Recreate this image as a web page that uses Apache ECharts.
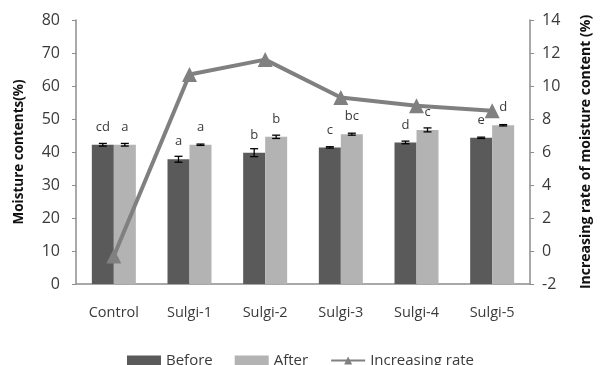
<!DOCTYPE html>
<html>
<head>
<meta charset="utf-8">
<script src="https://cdn.jsdelivr.net/npm/echarts@6/dist/echarts.min.js"></script>
<style>
  html, body { margin: 0; padding: 0; background: #fff; }
  #chart { width: 601px; height: 365px; }
</style>
</head>
<body>
<div id="chart"></div>
<script>
// Moisture content before/after treatment and the rate of increase
const categories = ['Control', 'Sulgi-1', 'Sulgi-2', 'Sulgi-3', 'Sulgi-4', 'Sulgi-5'];
const beforeValues = [42.2, 37.8, 39.8, 41.4, 42.9, 44.3];
const afterValues = [42.2, 42.2, 44.6, 45.4, 46.7, 48.1];
const beforeErrors = [0.4, 0.9, 1.2, 0.2, 0.4, 0.2];
const afterErrors = [0.4, 0.2, 0.5, 0.3, 0.6, 0.2];
const beforeLetters = ['cd', 'a', 'b', 'c', 'd', 'e'];
const afterLetters = ['a', 'a', 'b', 'bc', 'c', 'd'];
const increasingRate = [-0.3, 10.7, 11.6, 9.3, 8.8, 8.5];

const FONT = '"Open Sans", "Liberation Sans", sans-serif';
const BAR_W = 22;
const BEFORE_COLOR = '#5a5a5a';
const AFTER_COLOR = '#b3b3b3';
const LINE_COLOR = '#808080';
const AXIS_COLOR = '#8c8c8c';
const TEXT_COLOR = '#3a3a3a';

function errorBarSeries(values, errors, offset) {
  return {
    type: 'custom',
    yAxisIndex: 0,
    z: 5,
    silent: true,
    data: values.map((v, i) => [i, v, errors[i]]),
    renderItem: function (params, api) {
      const i = api.value(0);
      const hi = api.coord([i, api.value(1) + api.value(2)]);
      const lo = api.coord([i, api.value(1) - api.value(2)]);
      const x = hi[0] + offset;
      const cap = 4;
      const st = { stroke: '#000', lineWidth: 1.3 };
      return {
        type: 'group',
        children: [
          { type: 'line', shape: { x1: x, y1: hi[1], x2: x, y2: lo[1] }, style: st },
          { type: 'line', shape: { x1: x - cap, y1: hi[1], x2: x + cap, y2: hi[1] }, style: st },
          { type: 'line', shape: { x1: x - cap, y1: lo[1], x2: x + cap, y2: lo[1] }, style: st }
        ]
      };
    }
  };
}

const chart = echarts.init(document.getElementById('chart'));
chart.setOption({
  animation: false,
  textStyle: { fontFamily: FONT },
  grid: { left: 76, right: 64, top: 20, bottom: 81 },
  legend: {
    top: 348,
    left: 'center',
    itemWidth: 34,
    itemHeight: 10,
    itemGap: 22,
    textStyle: { fontSize: 15, color: TEXT_COLOR, fontFamily: FONT },
    data: [
      { name: 'Before', icon: 'rect' },
      { name: 'After', icon: 'rect' },
      { name: 'Increasing rate' }
    ]
  },
  xAxis: {
    type: 'category',
    data: categories,
    axisLine: { lineStyle: { color: AXIS_COLOR, width: 1.5 } },
    axisTick: { show: false },
    axisLabel: { color: TEXT_COLOR, fontSize: 14.5, margin: 21 }
  },
  yAxis: [
    {
      type: 'value',
      min: 0, max: 80, interval: 10,
      name: 'Moisture contents(%)',
      nameLocation: 'middle',
      nameRotate: 90,
      nameGap: 50,
      nameTextStyle: { fontWeight: 'bold', fontSize: 13.5, color: '#111' },
      axisLine: { show: true, lineStyle: { color: AXIS_COLOR, width: 1.5 } },
      axisTick: { show: true, length: 4, lineStyle: { color: AXIS_COLOR } },
      splitLine: { show: false },
      axisLabel: { color: TEXT_COLOR, fontSize: 16, margin: 16 }
    },
    {
      type: 'value',
      min: -2, max: 14, interval: 2,
      position: 'right',
      name: 'Increasing rate of moisture content (%)',
      nameLocation: 'middle',
      nameRotate: 90,
      nameGap: 49,
      nameTextStyle: { fontWeight: 'bold', fontSize: 14, color: '#111' },
      axisLine: { show: true, lineStyle: { color: AXIS_COLOR, width: 1.5 } },
      axisTick: { show: true, length: 4, lineStyle: { color: AXIS_COLOR } },
      splitLine: { show: false },
      axisLabel: { color: TEXT_COLOR, fontSize: 16, margin: 12 }
    }
  ],
  series: [
    {
      name: 'Before',
      type: 'bar',
      yAxisIndex: 0,
      barWidth: BAR_W,
      barGap: '0%',
      itemStyle: { color: BEFORE_COLOR },
      data: beforeValues,
      label: {
        show: true, position: 'top', distance: 11,
        fontSize: 13, color: TEXT_COLOR,
        formatter: p => beforeLetters[p.dataIndex]
      }
    },
    {
      name: 'After',
      type: 'bar',
      yAxisIndex: 0,
      barWidth: BAR_W,
      barGap: '0%',
      itemStyle: { color: AFTER_COLOR },
      data: afterValues,
      label: {
        show: true, position: 'top', distance: 11,
        fontSize: 13, color: TEXT_COLOR,
        formatter: p => afterLetters[p.dataIndex]
      }
    },
    errorBarSeries(beforeValues, beforeErrors, -BAR_W / 2),
    errorBarSeries(afterValues, afterErrors, BAR_W / 2),
    {
      name: 'Increasing rate',
      type: 'line',
      yAxisIndex: 1,
      z: 10,
      data: increasingRate,
      symbol: 'triangle',
      symbolSize: 15,
      lineStyle: { color: LINE_COLOR, width: 4 },
      itemStyle: { color: LINE_COLOR }
    }
  ]
});
</script>
</body>
</html>
